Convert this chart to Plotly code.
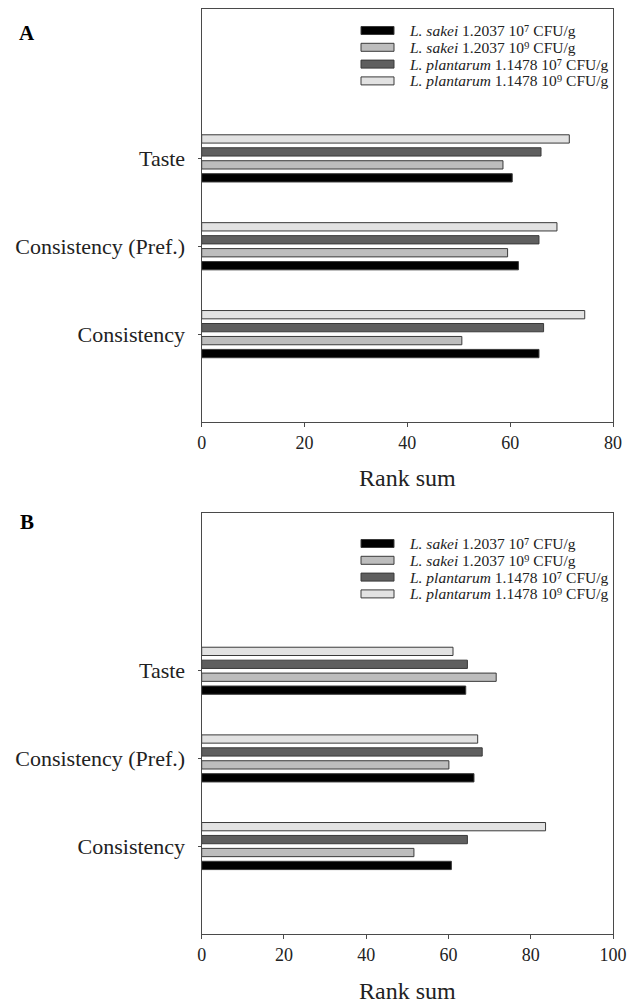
import plotly.graph_objects as go

categories = ["Consistency", "Consistency (Pref.)", "Taste"]
series_names = [
    "<i>L. sakei</i> 1.2037 10\u2077 CFU/g",
    "<i>L. sakei</i> 1.2037 10\u2079 CFU/g",
    "<i>L. plantarum</i> 1.1478 10\u2077 CFU/g",
    "<i>L. plantarum</i> 1.1478 10\u2079 CFU/g",
]
colors = ["#000000", "#bdbdbd", "#5f5f5f", "#e2e2e2"]

# Panel A values (Consistency, Consistency (Pref.), Taste)
a_sakei7 = [65.6, 61.6, 60.4]
a_sakei9 = [50.6, 59.5, 58.6]
a_plant7 = [66.5, 65.6, 66.0]
a_plant9 = [74.5, 69.1, 71.5]

# Panel B values
b_sakei7 = [60.7, 66.2, 64.2]
b_sakei9 = [51.6, 60.1, 71.6]
b_plant7 = [64.6, 68.2, 64.6]
b_plant9 = [83.6, 67.1, 61.1]

a_ticks = [0, 20, 40, 60, 80]
b_ticks = [0, 20, 40, 60, 80, 100]

ypos = list(range(len(categories)))
FONT = "Liberation Serif, Times New Roman, serif"
W, H = 628, 1004

fig = go.Figure()
for name, col, vals in zip(series_names, colors, [a_sakei7, a_sakei9, a_plant7, a_plant9]):
    fig.add_trace(go.Bar(x=vals, y=ypos, orientation="h", name=name, showlegend=False,
                         marker=dict(color=col, line=dict(color="#3a3a3a", width=1)),
                         xaxis="x", yaxis="y"))
for name, col, vals in zip(series_names, colors, [b_sakei7, b_sakei9, b_plant7, b_plant9]):
    fig.add_trace(go.Bar(x=vals, y=ypos, orientation="h", name=name, showlegend=False,
                         marker=dict(color=col, line=dict(color="#3a3a3a", width=1)),
                         xaxis="x2", yaxis="y2"))

xd = [201.7 / W, 613 / W]
line_common = dict(showline=True, linecolor="#4a4a4a", linewidth=1.4, mirror=True,
                   showgrid=False, zeroline=False, ticks="outside", tickcolor="#4a4a4a",
                   automargin=False)
xtickfont = dict(family=FONT, size=18, color="#222")
ytickfont = dict(family=FONT, size=22, color="#222")
title_font = dict(family=FONT, size=24, color="#222")

# manual legend (rectangular keys like the original)
shapes, annotations = [], []
for top_row, step in [(30.5, 16.8), (543.5, 16.8)]:
    for i, (name, col) in enumerate(zip(series_names, colors)):
        yc = top_row + i * step
        shapes.append(dict(type="rect", xref="paper", yref="paper",
                           x0=361 / W, x1=394 / W, y0=1 - (yc + 4) / H, y1=1 - (yc - 4) / H,
                           fillcolor=col, line=dict(color="#3a3a3a", width=1)))
        annotations.append(dict(text=name, x=407 / W, y=1 - yc / H, xref="paper", yref="paper",
                                xanchor="left", yanchor="middle", showarrow=False,
                                font=dict(family=FONT, size=15.5, color="#222")))

annotations += [
    dict(text="<b>A</b>", x=27 / W, y=1 - 33 / H, xref="paper", yref="paper",
         xanchor="center", yanchor="middle", showarrow=False,
         font=dict(family=FONT, size=21, color="#000")),
    dict(text="<b>B</b>", x=27 / W, y=1 - 522 / H, xref="paper", yref="paper",
         xanchor="center", yanchor="middle", showarrow=False,
         font=dict(family=FONT, size=21, color="#000")),
]

fig.update_layout(
    width=W, height=H, autosize=False,
    margin=dict(l=0, r=0, t=0, b=0),
    paper_bgcolor="white", plot_bgcolor="white",
    barmode="group", bargap=0.41, bargroupgap=0.36,
    font=dict(family=FONT, color="#222"),
    showlegend=False,
    xaxis=dict(domain=xd, anchor="y", range=[0, 80], tickvals=a_ticks, ticklen=4,
               tickfont=xtickfont,
               title=dict(text="Rank sum", font=title_font, standoff=17),
               **line_common),
    yaxis=dict(domain=[1 - 422 / H, 1 - 9 / H], anchor="x", range=[-1, 3.7],
               tickvals=ypos, ticktext=categories, ticklen=3, ticklabelstandoff=8,
               tickfont=ytickfont, **line_common),
    xaxis2=dict(domain=xd, anchor="y2", range=[0, 100], tickvals=b_ticks, ticklen=4,
                tickfont=xtickfont,
                title=dict(text="Rank sum", font=title_font, standoff=18),
                **line_common),
    yaxis2=dict(domain=[1 - 933.7 / H, 1 - 513 / H], anchor="x2", range=[-1, 3.8],
                tickvals=ypos, ticktext=categories, ticklen=3, ticklabelstandoff=8,
                tickfont=ytickfont, **line_common),
    shapes=shapes,
    annotations=annotations,
)

fig.write_html(
    "out.html",
    config={"displayModeBar": False},
    post_script="document.body.style.margin='0';document.body.style.overflow='hidden';"
                "document.documentElement.style.overflow='hidden';",
)
